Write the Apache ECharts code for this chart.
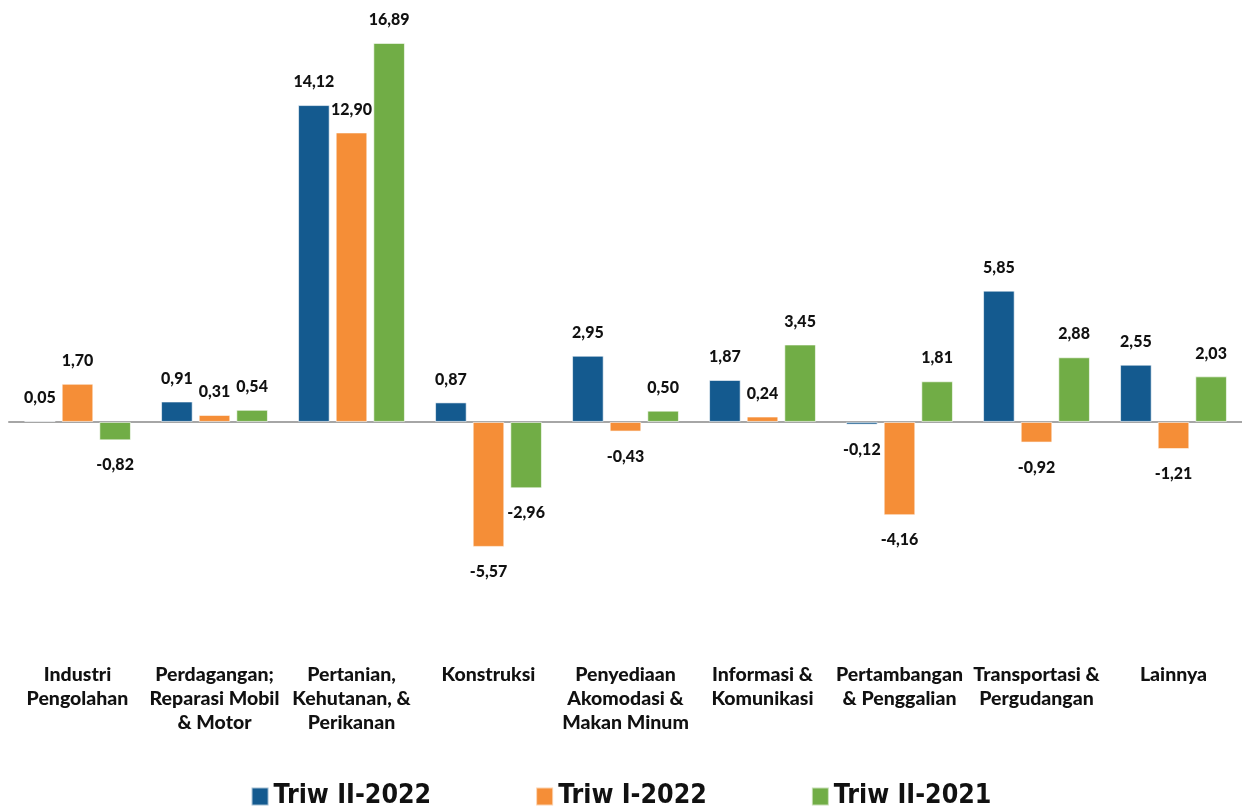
<!DOCTYPE html>
<html>
<head>
<meta charset="utf-8">
<script src="https://cdn.jsdelivr.net/npm/echarts@6/dist/echarts.min.js"></script>
<style>
html,body{margin:0;padding:0;background:#fff;}
#chart{width:1242px;height:808px;}
</style>
</head>
<body>
<div id="chart"></div>
<script>
const categories = [
  "Industri\nPengolahan",
  "Perdagangan;\nReparasi Mobil\n& Motor",
  "Pertanian,\nKehutanan, &\nPerikanan",
  "Konstruksi",
  "Penyediaan\nAkomodasi &\nMakan Minum",
  "Informasi &\nKomunikasi",
  "Pertambangan\n& Penggalian",
  "Transportasi &\nPergudangan",
  "Lainnya"
];
const seriesNames = ["Triw II-2022", "Triw I-2022", "Triw II-2021"];
const triwII2022 = [0.05, 0.91, 14.12, 0.87, 2.95, 1.87, -0.12, 5.85, 2.55];
const triwI2022  = [1.70, 0.31, 12.90, -5.57, -0.43, 0.24, -4.16, -0.92, -1.21];
const triwII2021 = [-0.82, 0.54, 16.89, -2.96, 0.50, 3.45, 1.81, 2.88, 2.03];
const colors = ["#145A8F", "#F58E37", "#71AD46"];

const chart = echarts.init(document.getElementById('chart'));

function toData(arr) {
  return arr.map(v => ({
    value: v,
    label: { position: v < 0 ? 'bottom' : 'top', distance: v < 0 ? 17 : 15 }
  }));
}

const labelStyle = {
  show: true,
  fontFamily: 'Lato',
  fontWeight: 900,
  fontSize: 16,
  color: '#111',
  formatter: p => p.value.toFixed(2).replace('.', ',')
};

const allSeries = [triwII2022, triwI2022, triwII2021].map((arr, i) => ({
  name: seriesNames[i],
  type: 'bar',
  xAxisIndex: 0,
  data: toData(arr),
  barGap: '19%',
  barCategoryGap: '22%',
  itemStyle: { color: colors[i], borderColor: 'rgba(255,255,255,0.6)', borderWidth: 1 },
  label: labelStyle
}));

chart.setOption({
  animation: false,
  color: colors,
  grid: { left: 9, right: -2, top: 18, height: 628.3 },
  legend: {
    bottom: -7,
    left: 'center',
    itemWidth: 17,
    itemHeight: 18,
    itemGap: 104,
    icon: 'rect',
    textStyle: { fontFamily: 'DejaVu Sans Condensed', fontWeight: 'bold', fontSize: 26.5, color: '#111' },
    data: seriesNames
  },
  xAxis: [
    {
      type: 'category',
      data: categories,
      axisLine: { onZero: true, lineStyle: { color: '#A6A6A6', width: 2 } },
      axisTick: { show: false },
      axisLabel: { show: false }
    },
    {
      type: 'category',
      data: categories,
      position: 'bottom',
      axisLine: { show: false, onZero: false },
      axisTick: { show: false },
      axisLabel: {
        margin: 16,
        fontFamily: 'Lato',
        fontWeight: 900,
        fontSize: 19.5,
        lineHeight: 24,
        color: '#111',
        interval: 0
      }
    }
  ],
  yAxis: {
    type: 'value',
    min: -10,
    max: 18,
    show: false,
    splitLine: { show: false }
  },
  series: allSeries
});
</script>
</body>
</html>
